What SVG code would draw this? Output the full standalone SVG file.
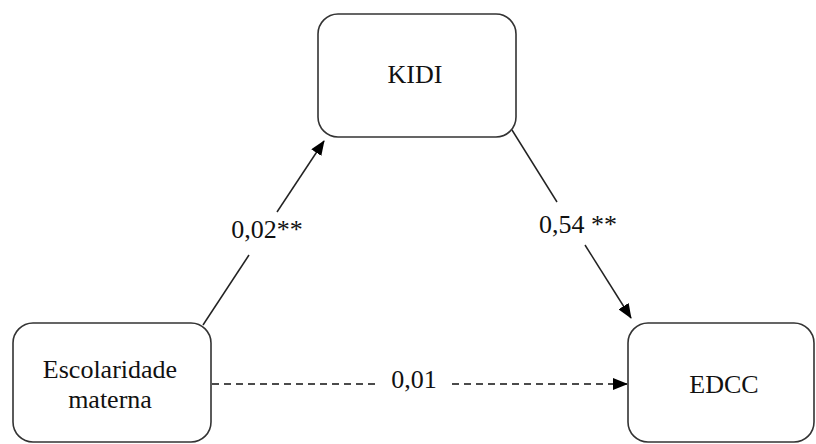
<svg xmlns="http://www.w3.org/2000/svg" width="816" height="444" viewBox="0 0 816 444">
<style>
.box{fill:#fff;stroke:#333;stroke-width:1.6}
.t{font-family:'Liberation Serif','Times New Roman','DejaVu Serif',serif;font-size:26px;fill:#111;text-anchor:middle}
.ln{stroke:#222;stroke-width:1.5;fill:none}
.dash{stroke:#111;stroke-width:1.5;fill:none;stroke-dasharray:7,5}
</style>
<defs>
<marker id="ah" markerUnits="userSpaceOnUse" markerWidth="15" markerHeight="12" refX="14" refY="6" orient="auto">
<path d="M0,0 L15,6 L0,12 z" fill="#000"/>
</marker>
</defs>
<rect width="816" height="444" fill="#fff"/>
<g id="connectors">
<line class="ln" x1="203" y1="325" x2="249" y2="255"/>
<line class="ln" x1="277" y1="212" x2="324" y2="141" marker-end="url(#ah)"/>
<line class="ln" x1="512" y1="130" x2="557" y2="202"/>
<line class="ln" x1="585" y1="245" x2="631" y2="318" marker-end="url(#ah)"/>
<line class="dash" x1="212" y1="384" x2="378" y2="384"/>
<line class="dash" x1="452" y1="384" x2="627" y2="384" marker-end="url(#ah)"/>
<text class="t" x="267" y="238">0,02**</text>
<text class="t" x="578" y="233">0,54 **</text>
<text class="t" x="414" y="388">0,01</text>
</g>
<g id="kidi">
<rect class="box" x="318" y="14" width="198" height="123" rx="20"/>
<text class="t" x="415" y="83">KIDI</text>
</g>
<g id="escolaridade">
<rect class="box" x="13" y="323" width="198" height="119" rx="20"/>
<text class="t" x="110" y="378">Escolaridade</text>
<text class="t" x="110" y="408">materna</text>
</g>
<g id="edcc">
<rect class="box" x="628" y="323" width="186" height="119" rx="20"/>
<text class="t" x="724" y="393">EDCC</text>
</g>
</svg>
